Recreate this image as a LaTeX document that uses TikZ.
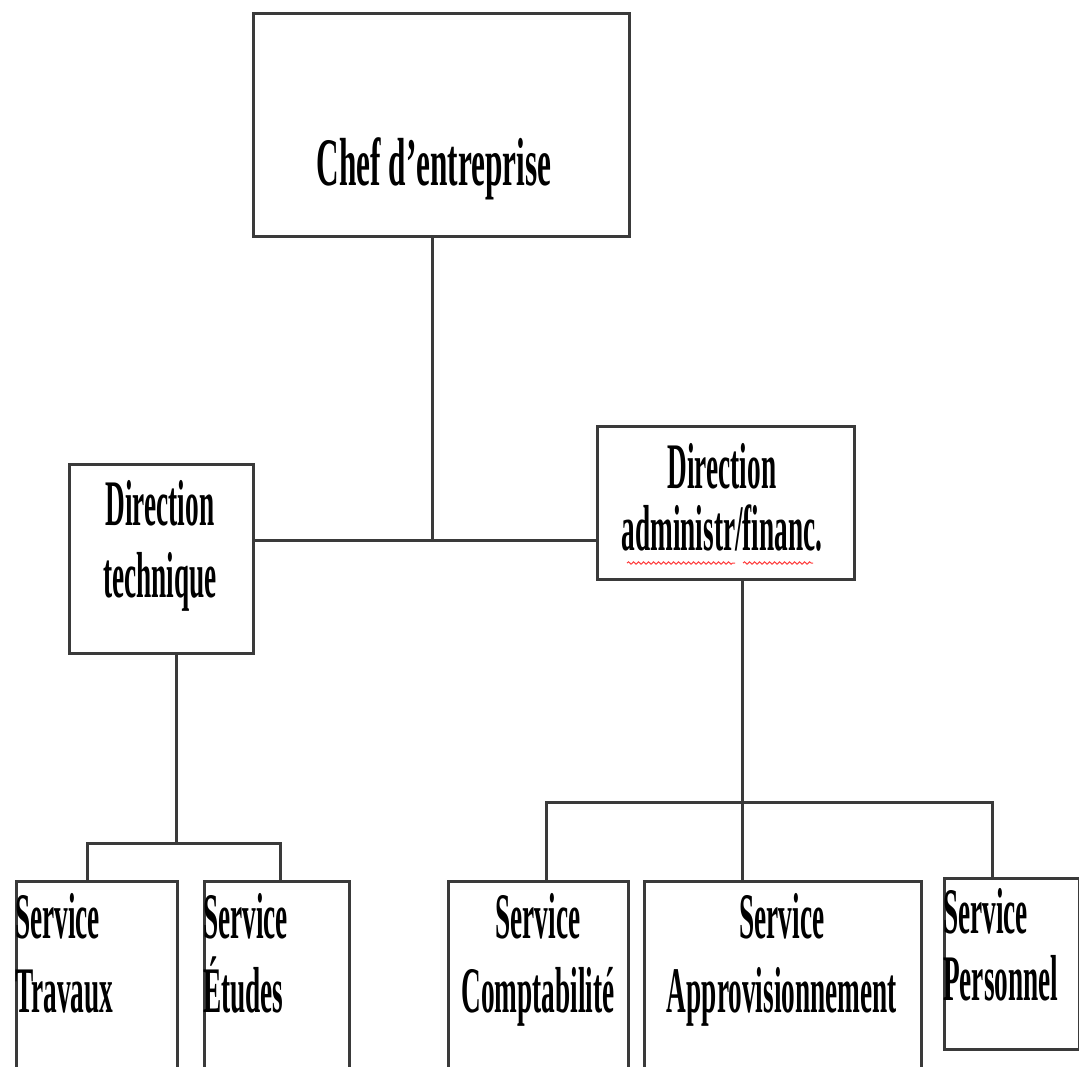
\documentclass[tikz,border=0pt]{standalone}
\usepackage{fontspec}
\setmainfont{Liberation Serif}
\usepackage{tikz}
\usetikzlibrary{shapes, decorations.pathmorphing}
\definecolor{linegray}{HTML}{3A3A3A}
\tikzstyle{unit} = [rectangle, draw=linegray, line width=3pt, fill=white, anchor=north west, inner sep=0pt]
\tikzstyle{boxtext} = [font=\fontsize{65}{74}\selectfont\bfseries, align=center, inner sep=0pt, text=black]
\tikzstyle{narrow} = [xscale=0.42]
\tikzstyle{link} = [draw=linegray, line width=3pt]
\tikzstyle{squiggle} = [red!75, line width=1pt, decorate, decoration={snake, amplitude=1.2pt, segment length=5pt}]

\begin{document}
\begin{tikzpicture}[x=1pt, y=-1pt]
\useasboundingbox (0,0) rectangle (1079,1066);
\clip (0,0) rectangle (1079,1066);

% Nodes
\node (chef) [unit, minimum width=376pt, minimum height=223pt] at (252,12) {};
\node (dt) [unit, minimum width=184pt, minimum height=189pt] at (68,463) {};
\node (da) [unit, minimum width=257pt, minimum height=153pt] at (596,425) {};
\node (trav) [unit, minimum width=161pt, minimum height=200pt] at (15,880) {};
\node (etud) [unit, minimum width=145pt, minimum height=200pt] at (203,880) {};
\node (compta) [unit, minimum width=180pt, minimum height=200pt] at (447,880) {};
\node (appro) [unit, minimum width=277pt, minimum height=200pt] at (643,880) {};
\node (perso) [unit, minimum width=135pt, minimum height=171pt] at (943,877) {};

% Texts (base = baseline of the last line)
\node (chefT) [boxtext, font=\fontsize{68}{74}\selectfont\bfseries, xscale=0.46, anchor=base] at (434,185) {Chef d’entreprise};
\node (dtT) [boxtext, narrow, anchor=base] at (160,597) {Direction\\[-2pt]technique};
\node (daT) [boxtext, narrow, anchor=base] at (722,550) {Direction\\[-12pt]administr/financ.};
\node (travT) [boxtext, narrow, align=left, anchor=base west] at (15,1012) {Service\\Travaux};
\node (etudT) [boxtext, narrow, align=left, anchor=base west] at (203,1012) {Service\\Études};
\node (comptaT) [boxtext, narrow, anchor=base] at (538,1012) {Service\\Comptabilité};
\node (approT) [boxtext, narrow, anchor=base] at (782,1012) {Service\\Approvisionnement};
\node (persoT) [boxtext, narrow, align=left, anchor=base west] at (943,1000) {Service\\[-7pt]Personnel};

% Lines
\coordinate (top) at (432,540);
\coordinate (tL) at (87,843);
\coordinate (tM) at (176,843);
\coordinate (tR) at (280,843);
\coordinate (rL) at (546,802);
\coordinate (rM) at (742,802);
\coordinate (rR) at (992,802);
\draw [link] (chef.south -| top) -- (top);
\draw [link] (dt.east |- top) -- (da.west |- top);
\draw [link] (dt.south -| tM) -- (tM);
\draw [link] (trav.north -| tL) |- (tR) -- (etud.north -| tR);
\draw [link] (da.south -| rM) -- (appro.north -| rM);
\draw [link] (compta.north -| rL) |- (rR) -- (perso.north -| rR);

% spell-check marks
\draw [squiggle] (627,563) -- (735,563);
\draw [squiggle] (743,563) -- (813,563);

\end{tikzpicture}
\end{document}
